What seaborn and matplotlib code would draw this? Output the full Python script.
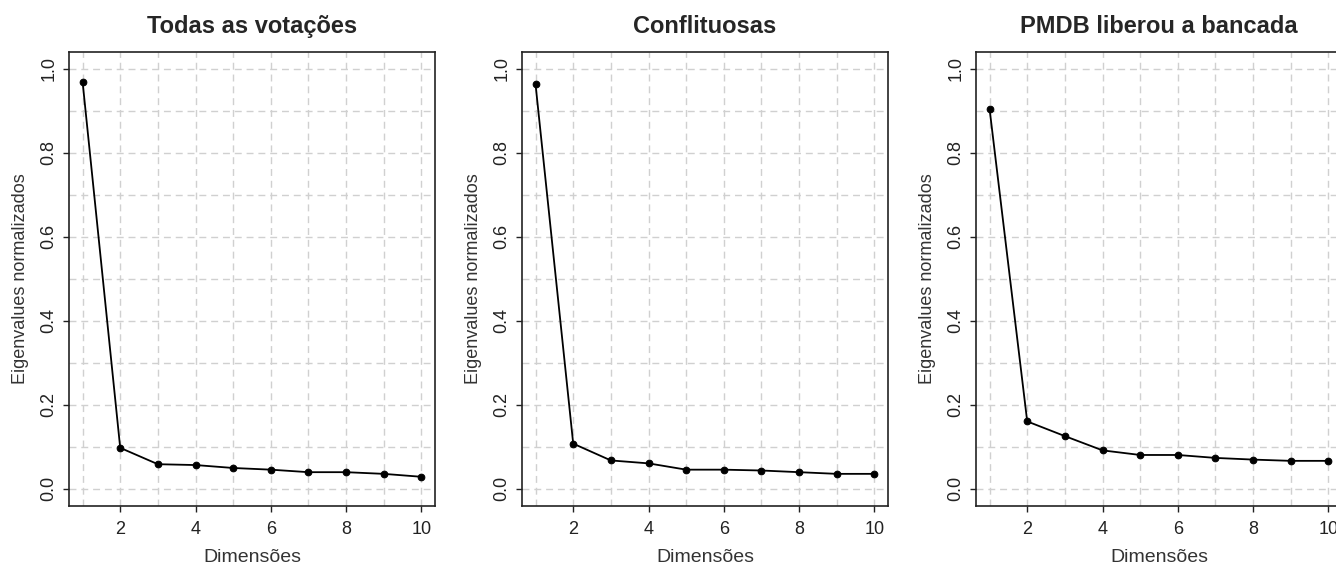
import matplotlib
matplotlib.use("Agg")
import matplotlib.pyplot as plt
import seaborn as sns
import pandas as pd

# Normalised eigenvalues of the first ten dimensions for each vote subset
dimensoes = [1, 2, 3, 4, 5, 6, 7, 8, 9, 10]
todas = [0.970, 0.097, 0.058, 0.056, 0.049, 0.045, 0.039, 0.039, 0.035, 0.028]
conflituosas = [0.963, 0.107, 0.067, 0.060, 0.045, 0.045, 0.043, 0.039, 0.035, 0.035]
pmdb_liberou = [0.905, 0.160, 0.125, 0.091, 0.080, 0.080, 0.073, 0.069, 0.066, 0.066]

titulos = ["Todas as votações", "Conflituosas", "PMDB liberou a bancada"]
series = [todas, conflituosas, pmdb_liberou]

x_ticks = [2, 4, 6, 8, 10]
y_ticks = [0.0, 0.2, 0.4, 0.6, 0.8, 1.0]

sns.set_style("white")
plt.rcParams["font.family"] = ["Liberation Sans", "DejaVu Sans"]

W, H = 1336, 565
fig = plt.figure(figsize=(W / 100, H / 100), dpi=100)

# panel boxes in pixels: left, right, top, bottom
boxes = [(69, 435, 51.5, 506), (522, 888, 51.5, 506), (976, 1342, 51.5, 506)]

for (l, r, t, b), titulo, valores in zip(boxes, titulos, series):
    ax = fig.add_axes([l / W, (H - b) / H, (r - l) / W, (b - t) / H])
    df = pd.DataFrame({"Dimensões": dimensoes, "valor": valores})

    # light dashed grid at every dimension and every 0.1
    for xv in dimensoes:
        ax.axvline(xv, color="#d0d0d0", lw=1.0, ls=(0, (5, 3.5)), zorder=0)
    for k in range(11):
        ax.axhline(k / 10, color="#d0d0d0", lw=1.0, ls=(0, (5, 3.5)), zorder=0)

    sns.lineplot(data=df, x="Dimensões", y="valor", ax=ax, color="black",
                 lw=1.3, marker="o", markersize=4.8, markeredgecolor="black",
                 zorder=3)

    ax.set_xlim(0.64, 10.36)
    ax.set_ylim(-0.0416, 1.0416)
    ax.set_xticks(x_ticks)
    ax.set_yticks(y_ticks)
    ax.set_yticklabels([f"{v:.1f}" for v in y_ticks], rotation=90, va="center")
    ax.tick_params(axis="both", direction="out", length=4.5, width=1.0,
                   colors="#222222", labelsize=13, left=True, bottom=True)
    ax.tick_params(axis="x", pad=6.5)
    ax.tick_params(axis="y", pad=4)
    for s in ax.spines.values():
        s.set_color("#222222")
        s.set_linewidth(1.2)
    ax.set_xlabel("Dimensões", fontsize=14, color="#333333", labelpad=8)
    ax.set_ylabel("Eigenvalues normalizados", fontsize=13, color="#333333",
                  labelpad=8)
    ax.set_title(titulo, fontsize=17, fontweight="bold", pad=13)

fig.savefig("out.png", dpi=100)
